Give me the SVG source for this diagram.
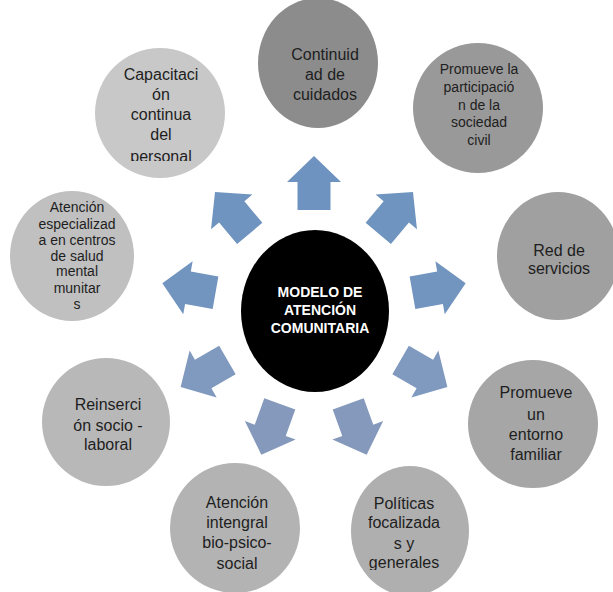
<svg xmlns="http://www.w3.org/2000/svg" width="613" height="592" viewBox="0 0 613 592">
<style>
.t{font-family:"Liberation Sans",Arial,sans-serif;font-size:16px;fill:#1e1e1e;text-anchor:middle}
.s{font-size:14px}
.c{font-family:"Liberation Sans",Arial,sans-serif;font-size:14px;font-weight:bold;fill:#ffffff;text-anchor:middle}
</style>
<defs>
<polygon id="arr" points="100,-16.5 128,-16.5 128,-27 154,0 128,27 128,16.5 100,16.5"/>
<clipPath id="clipCap"><rect x="90" y="40" width="150" height="121"/></clipPath>
<clipPath id="clipPol"><rect x="340" y="460" width="140" height="110"/></clipPath>
</defs>
<rect width="613" height="592" fill="#ffffff"/>
<g id="connectors">
<use href="#arr" transform="translate(314,310) rotate(-90)" fill="#6e93c0"/>
<use href="#arr" transform="translate(314,310) rotate(-50)" fill="#6f94bf"/>
<use href="#arr" transform="translate(314,310) rotate(-10)" fill="#7295bf"/>
<use href="#arr" transform="translate(314,310) rotate(30)" fill="#7f99bf"/>
<use href="#arr" transform="translate(314,310) rotate(70)" fill="#8499bb"/>
<use href="#arr" transform="translate(314,310) rotate(110)" fill="#8499bb"/>
<use href="#arr" transform="translate(314,310) rotate(150)" fill="#7f99bf"/>
<use href="#arr" transform="translate(314,310) rotate(190)" fill="#7295bf"/>
<use href="#arr" transform="translate(314,310) rotate(230)" fill="#6f94bf"/>
</g>
<g id="center">
<ellipse cx="315" cy="311" rx="74" ry="81" fill="#000000"/>
<text class="c" x="320" y="297">MODELO DE</text>
<text class="c" x="320" y="315">ATENCIÓN</text>
<text class="c" x="320" y="333">COMUNITARIA</text>
</g>
<g id="continuidad">
<ellipse cx="318" cy="63" rx="60" ry="65" fill="#8c8c8c"/>
<text class="t" x="325" y="60">Continuid</text>
<text class="t" x="325" y="80">ad de</text>
<text class="t" x="325" y="100">cuidados</text>
</g>
<g id="participacion">
<ellipse cx="478" cy="108" rx="65" ry="65" fill="#999999"/>
<text class="t s" x="479" y="74">Promueve la</text>
<text class="t s" x="479" y="92">participació</text>
<text class="t s" x="479" y="110">n de la</text>
<text class="t s" x="479" y="127">sociedad</text>
<text class="t s" x="479" y="145">civil</text>
</g>
<g id="red">
<ellipse cx="558" cy="256" rx="61" ry="64" fill="#a0a0a0"/>
<text class="t" x="559" y="256">Red de</text>
<text class="t" x="559" y="274">servicios</text>
</g>
<g id="entorno">
<ellipse cx="533" cy="424" rx="65" ry="64" fill="#a6a6a6"/>
<text class="t" x="536" y="398">Promueve</text>
<text class="t" x="536" y="420">un</text>
<text class="t" x="536" y="440">entorno</text>
<text class="t" x="536" y="460">familiar</text>
</g>
<g id="politicas">
<ellipse cx="410" cy="531" rx="59" ry="65" fill="#afafaf"/>
<g clip-path="url(#clipPol)">
<text class="t" x="404" y="509">Políticas</text>
<text class="t" x="404" y="528">focalizada</text>
<text class="t" x="404" y="549">s y</text>
<text class="t" x="404" y="568">generales</text>
</g>
</g>
<g id="integral">
<ellipse cx="235" cy="528" rx="65" ry="65" fill="#b3b3b3"/>
<text class="t" x="237" y="508">Atención</text>
<text class="t" x="237" y="528">intengral</text>
<text class="t" x="237" y="548">bio-psico-</text>
<text class="t" x="237" y="569">social</text>
</g>
<g id="reinsercion">
<ellipse cx="106" cy="422" rx="64" ry="64" fill="#b8b8b8"/>
<text class="t" x="108" y="410">Reinserci</text>
<text class="t" x="108" y="431">ón socio -</text>
<text class="t" x="108" y="450">laboral</text>
</g>
<g id="especializada">
<ellipse cx="72" cy="256" rx="62" ry="65" fill="#c0c0c0"/>
<text class="t s" x="77" y="212">Atención</text>
<text class="t s" x="77" y="229">especializad</text>
<text class="t s" x="77" y="245">a en centros</text>
<text class="t s" x="77" y="261">de salud</text>
<text class="t s" x="77" y="276">mental</text>
<text class="t s" x="77" y="293">munitar</text>
<text class="t s" x="77" y="309">s</text>
</g>
<g id="capacitacion">
<ellipse cx="160" cy="113" rx="65" ry="65" fill="#c8c8c8"/>
<g clip-path="url(#clipCap)">
<text class="t" x="161" y="80">Capacitaci</text>
<text class="t" x="161" y="100">ón</text>
<text class="t" x="161" y="120">continua</text>
<text class="t" x="161" y="140">del</text>
<text class="t" x="161" y="162">personal</text>
</g>
</g>
</svg>
